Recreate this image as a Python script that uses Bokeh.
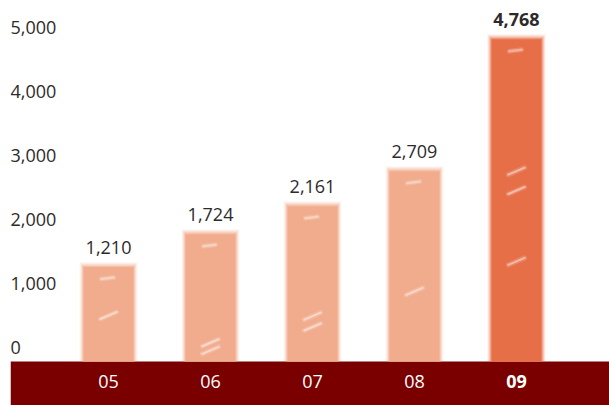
from bokeh.plotting import figure
from bokeh.models import Range1d, ColumnDataSource
from bokeh.embed import file_html
from bokeh.resources import INLINE
from bokeh.core.properties import value

# Yearly totals
years = ["05", "06", "07", "08", "09"]
totals = [1210, 1724, 2161, 2709, 4768]
highlight_year = "09"

# Value axis ticks
y_ticks = [0, 1000, 2000, 3000, 4000, 5000]
y_tick_labels = ["0", "1,000", "2,000", "3,000", "4,000", "5,000"]

# Styling
LIGHT = "#F1AC8D"
DARK = "#E76F48"
BAND = "#7A0000"
INK = "#2E2A2B"
FONT = value("Open Sans")
FONT_SIZE = "18px"

# Layout of the value range: the bars rise out of a dark band below zero
Y_LO, Y_HI = -953, 5375
BAND_TOP = -266
PX = (Y_HI - Y_LO) / 405.0  # value units per screen pixel

xs = list(range(len(years)))
is_hi = [y == highlight_year for y in years]

p = figure(
    width=609, height=405,
    x_range=Range1d(-0.961, 4.912),
    y_range=Range1d(Y_LO, Y_HI),
    output_backend="svg", toolbar_location=None,
    x_axis_location=None, y_axis_location=None,
    min_border_left=10, min_border_right=0,
    min_border_top=0, min_border_bottom=0,
    background_fill_color="white", border_fill_color="white",
)
p.outline_line_color = None
p.grid.visible = False

# Dark band carrying the year labels
p.quad(left=[p.x_range.start], right=[p.x_range.end],
       bottom=[Y_LO], top=[BAND_TOP], fill_color=BAND, line_color=None)

# Crayon-like bars: soft halo layers around a solid core
layers = [(0.57, 5, 0.10), (0.55, 3.8, 0.18), (0.53, 2.6, 0.3),
          (0.51, 1.4, 0.5), (0.49, 0, 1.0)]
bar_data = dict(x=xs, top=totals,
                color=[DARK if h else LIGHT for h in is_hi])
for k, (w, extra_px, a) in enumerate(layers):
    bar_data[f"top{k}"] = [t + extra_px * PX for t in totals]
src = ColumnDataSource(bar_data)
for k, (w, extra_px, a) in enumerate(layers):
    p.vbar(x="x", width=w, bottom=BAND_TOP, top=f"top{k}",
           source=src, fill_color="color", fill_alpha=a, line_color=None)

# Chalk texture: a pale fleck under each bar top and pairs of diagonal streaks
fx0, fy0, fx1, fy1 = [], [], [], []
for i, t in enumerate(totals):
    y = t - 12 * PX
    fx0.append(i - 0.07); fy0.append(y)
    fx1.append(i + 0.05); fy1.append(y + 1.5 * PX)
for lw, a in ((5, 0.15), (2.5, 0.35)):
    p.segment(x0=fx0, y0=fy0, x1=fx1, y1=fy1, line_color="white",
              line_alpha=a, line_width=lw, line_cap="round")

streak_sets = {0: [0.45], 1: [0.06, 0.12], 2: [0.2, 0.27], 3: [0.35], 4: [0.52, 0.58, 0.3]}
sx0, sy0, sx1, sy1 = [], [], [], []
for i, t in enumerate(totals):
    h = t - BAND_TOP
    for f in streak_sets[i]:
        yb = BAND_TOP + f * h
        sx0.append(i - 0.08); sy0.append(yb)
        sx1.append(i + 0.08); sy1.append(yb + 7 * PX)
for lw, a in ((5, 0.15), (2, 0.45)):
    p.segment(x0=sx0, y0=sy0, x1=sx1, y1=sy1, line_color="white",
              line_alpha=a, line_width=lw, line_cap="round")

# Value labels above bars
lab = ColumnDataSource(dict(
    x=xs, y=totals,
    text=[f"{t:,}" for t in totals],
    style=["bold" if h else "normal" for h in is_hi],
))
p.text(x="x", y="y", text="text", source=lab, text_font=FONT,
       text_font_size=FONT_SIZE, text_font_style="style",
       text_align="center", text_baseline="middle", y_offset=-20,
       text_color=INK)

# Value axis labels, left aligned at the frame edge
p.text(x=[p.x_range.start] * len(y_ticks), y=y_ticks, text=y_tick_labels,
       text_font=FONT, text_font_size=FONT_SIZE, text_align="left",
       text_baseline="middle", y_offset=3, text_color=INK)

# Year labels inside the band
yr = ColumnDataSource(dict(
    x=xs, y=[(Y_LO + BAND_TOP) / 2] * len(years), text=years,
    style=["bold" if h else "normal" for h in is_hi],
))
p.text(x="x", y="y", text="text", source=yr, text_font=FONT,
       text_font_size=FONT_SIZE, text_font_style="style",
       text_align="center", text_baseline="middle", y_offset=-2,
       text_color="white")

open("out.html", "w").write(file_html(p, INLINE))
